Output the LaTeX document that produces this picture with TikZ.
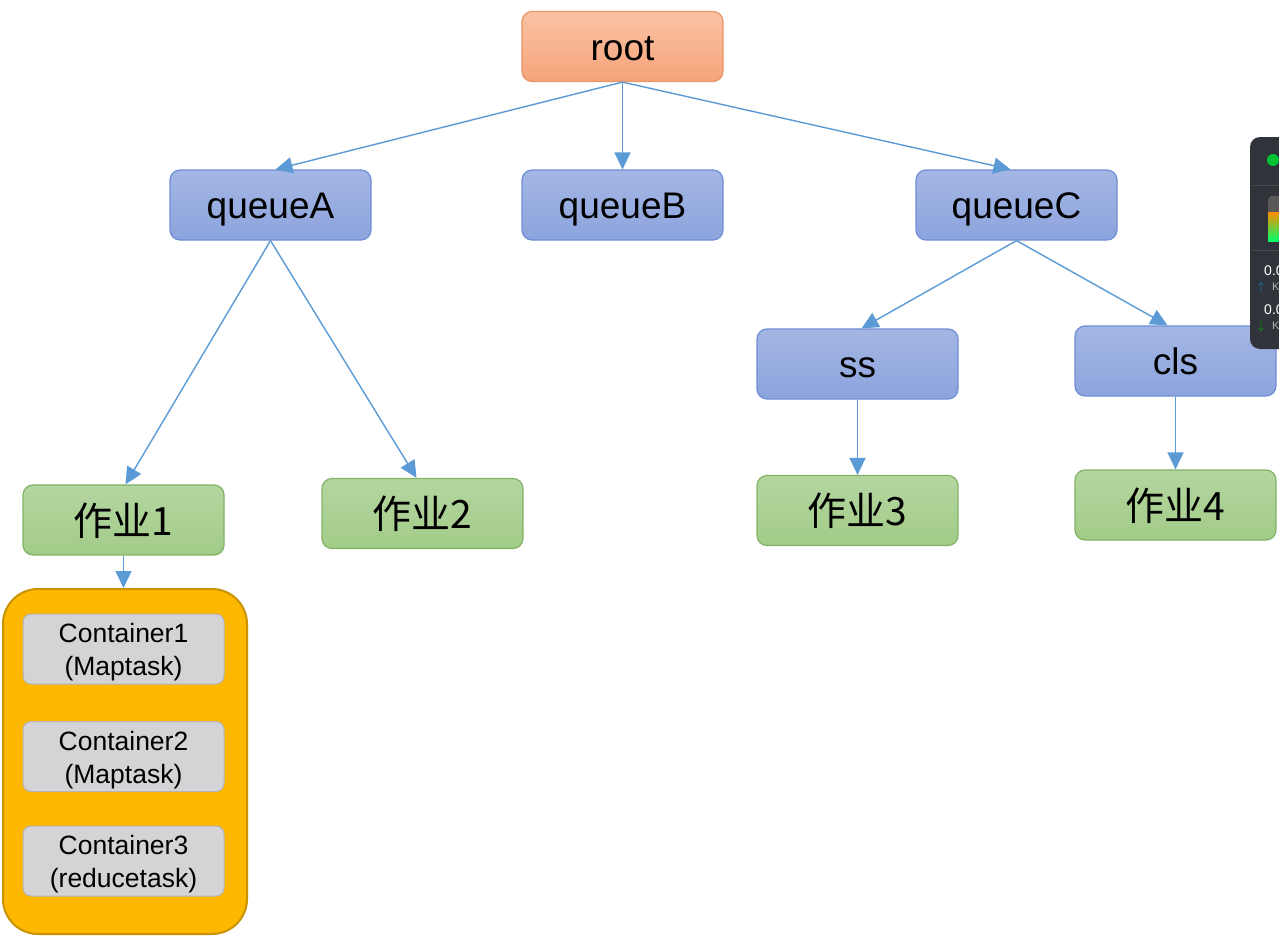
\documentclass[tikz,border=0pt]{standalone}
\usepackage{fontspec}
\setmainfont{Liberation Sans}
\newfontfamily\cjk{Noto Sans CJK SC}
\usetikzlibrary{arrows.meta}
\definecolor{arrowblue}{HTML}{5B9BD5}
\definecolor{qtop}{HTML}{A4B6E4}
\definecolor{qbot}{HTML}{8CA4DD}
\definecolor{qbord}{HTML}{6F8ED6}
\definecolor{gtop}{HTML}{B4D6A0}
\definecolor{gbot}{HTML}{A2CB88}
\definecolor{gbord}{HTML}{82B366}
\definecolor{rtop}{HTML}{FBC2A4}
\definecolor{rbot}{HTML}{F5A47A}
\definecolor{rbord}{HTML}{E8956A}
\definecolor{ofill}{HTML}{FFB800}
\definecolor{obord}{HTML}{C89200}
\definecolor{cfill}{HTML}{D4D4D6}
\definecolor{cbord}{HTML}{B4B4B8}
\definecolor{wdark}{HTML}{30333A}
\tikzset{
  box/.style={rectangle, rounded corners=10pt, minimum width=201pt, minimum height=70pt, inner sep=0pt, line width=1.2pt, text=black},
  rootbox/.style={box, draw=rbord, top color=rtop, bottom color=rbot, font=\fontsize{37}{42}\selectfont, text height=27pt, text depth=0pt},
  qbox/.style={box, draw=qbord, top color=qtop, bottom color=qbot, font=\fontsize{37}{42}\selectfont, text height=26pt, text depth=0pt},
  jobbox/.style={box, draw=gbord, top color=gtop, bottom color=gbot, font=\cjk\fontsize{39}{44}\selectfont, text height=30pt, text depth=0pt},
  contbox/.style={rectangle, rounded corners=8pt, minimum width=201pt, minimum height=70pt, inner sep=0pt, line width=1pt, draw=cbord, fill=cfill, align=center, font=\fontsize{26.5}{33}\selectfont},
  grpbox/.style={rectangle, rounded corners=35pt, minimum width=244pt, minimum height=345pt, inner sep=0pt, line width=2pt, draw=obord, fill=ofill},
  conn/.style={draw=arrowblue, line width=1.4pt, -{Triangle[length=17pt,width=16pt]}}
}
\newcommand{\tallstrut}{\rule{0pt}{26pt}}
\begin{document}
\begin{tikzpicture}[x=1pt,y=-1pt]
\clip (0,0) rectangle (1279,942);
\fill[white] (0,0) rectangle (1279,942);

\node[rootbox] (root) at (622.5,46.5) {root};
\node[qbox] (qA) at (270.5,205) {queueA};
\node[qbox] (qB) at (622.5,205) {queueB};
\node[qbox] (qC) at (1016.5,205) {queueC};
\node[qbox] (ss) at (857.5,364) {ss};
\node[qbox] (cls) at (1175.5,361) {cls};
\node[jobbox] (j1) at (123.5,520) {作业1};
\node[jobbox] (j2) at (422.5,513.5) {作业2};
\node[jobbox] (j3) at (857.5,510.5) {作业3};
\node[jobbox] (j4) at (1175.5,505) {作业4};

\node[grpbox] (grp) at (125,761.5) {};
\node[contbox] (c1) at (123.5,649) {\tallstrut Container1\\(Maptask)};
\node[contbox] (c2) at (123.5,756.5) {\tallstrut Container2\\(Maptask)};
\node[contbox] (c3) at (123.5,861) {\tallstrut Container3\\(reducetask)};

\draw[conn] (root.south) -- ([xshift=5pt]qA.north);
\draw[conn] (root.south) -- (qB.north);
\draw[conn] (root.south) -- ([xshift=-6pt]qC.north);
\draw[conn] (qA.south) -- ([xshift=2pt]j1.north);
\draw[conn] (qA.south) -- ([xshift=-6pt]j2.north);
\draw[conn] (qC.south) -- ([xshift=4pt]ss.north);
\draw[conn] (qC.south) -- ([xshift=-8pt]cls.north);
\draw[conn] (ss.south) -- (j3.north);
\draw[conn] (cls.south) -- (j4.north);
\draw[conn] (j1.south) -- (grp.north -| j1.south);

% screen overlay widget at right edge
\fill[wdark, rounded corners=10pt] (1250,137) rectangle (1300,349);
\fill[green!70!black!80!cyan] (1273,160) circle (6pt);
\draw[gray!60!black, line width=0.8pt] (1252,185) -- (1279,185);
\draw[gray!60!black, line width=0.8pt] (1252,250) -- (1279,250);
\fill[gray!70!black, rounded corners=4pt] (1268,196) rectangle (1290,241);
\shade[top color=orange!90!yellow, bottom color=green!60!cyan] (1268,212) rectangle (1290,241);
\node[anchor=west, text=white, font=\fontsize{14}{16}\selectfont, inner sep=0pt] (w1) at (1264,271) {0.0};
\node[anchor=west, text=cyan!70!blue, font=\fontsize{12}{14}\selectfont, inner sep=0pt] (w2) at (1258,287) {$\uparrow$};
\node[anchor=west, text=gray!60, font=\fontsize{11}{13}\selectfont, inner sep=0pt] (w3) at (1272,287) {K};
\node[anchor=west, text=white, font=\fontsize{14}{16}\selectfont, inner sep=0pt] (w4) at (1264,310) {0.0};
\node[anchor=west, text=green!70!black, font=\fontsize{12}{14}\selectfont, inner sep=0pt] (w5) at (1258,326) {$\downarrow$};
\node[anchor=west, text=gray!60, font=\fontsize{11}{13}\selectfont, inner sep=0pt] (w6) at (1272,326) {K};
\end{tikzpicture}
\end{document}
